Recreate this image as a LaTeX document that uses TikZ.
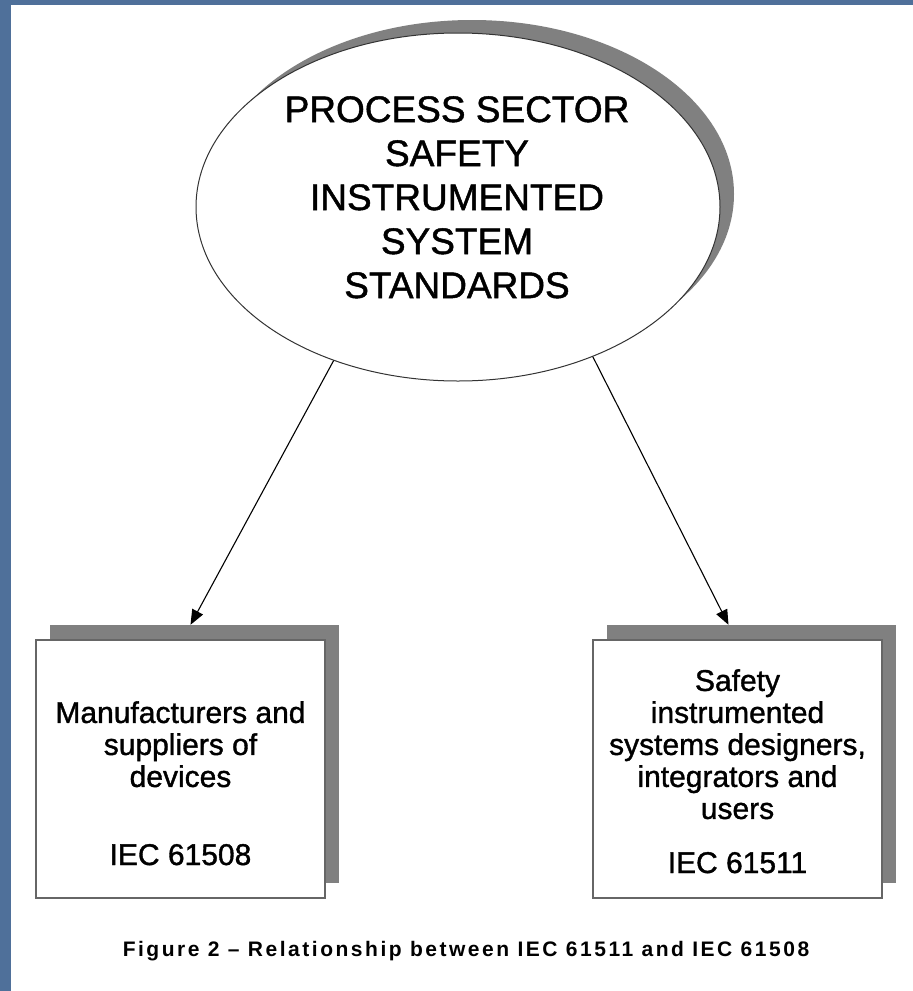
\documentclass[tikz,border=0pt]{standalone}
\usepackage{fontspec}
\setmainfont[FakeBold=1.2]{Liberation Sans}
\newfontfamily\capfont[LetterSpace=12]{Liberation Sans}
\usetikzlibrary{shapes.geometric,arrows.meta,calc}
\definecolor{slideblue}{RGB}{79,112,154}
\definecolor{shadowgray}{RGB}{128,128,128}
\begin{document}
\begin{tikzpicture}[x=1pt,y=-1pt,
  oval/.style={ellipse, draw=black!80, line width=1pt, fill=white,
    minimum width=524pt, minimum height=348pt, inner sep=0pt},
  ovalshadow/.style={ellipse, fill=shadowgray,
    minimum width=524pt, minimum height=348pt, inner sep=0pt},
  card/.style={rectangle, draw=black!60, line width=1.2pt, fill=white,
    minimum width=289pt, minimum height=258pt, inner sep=0pt},
  cardshadow/.style={rectangle, fill=shadowgray,
    minimum width=289pt, minimum height=258pt, inner sep=0pt},
  title/.style={align=center, inner sep=0pt, font=\fontsize{37}{44}\selectfont},
  body/.style={align=center, inner sep=0pt, font=\fontsize{30}{32}\selectfont},
  link/.style={line width=1.1pt, -{Triangle[length=15pt,width=12pt]}}
]
\useasboundingbox (0,0) rectangle (913,991);
% page background
\fill[slideblue] (0,0) rectangle (913,991);
\fill[white] (11,5) rectangle (913,991);

% top ellipse with its shadow
\node[ovalshadow] (stdsh) at (472,194) {};
\node[oval] (std) at (458,207) {};
\node[title, anchor=north] (stdtext) at (457,96)
  {PROCESS SECTOR\\SAFETY\\INSTRUMENTED\\SYSTEM\\STANDARDS};

% left box
\node[cardshadow] (mfrsh) at (194.5,754) {};
\node[card] (mfr) at (180.5,769) {};
\node[body, anchor=north] (mfrtext) at (180.5,701)
  {Manufacturers and\\suppliers of\\devices};
\node[body, anchor=base] (mfrstd) at (180.5,865) {IEC 61508};

% right box
\node[cardshadow] (dessh) at (751.5,754) {};
\node[card] (des) at (737.5,769) {};
\node[body, anchor=north] (destext) at (737.5,669)
  {Safety\\instrumented\\systems designers,\\integrators and\\users};
\node[body, anchor=base] (desstd) at (737.5,873) {IEC 61511};

% connectors
\draw[link] (std.231.9) -- ([xshift=-4pt]mfrsh.north);
\draw[link] (std.312.2) -- ([xshift=-23pt]dessh.north);

% caption
\node[font=\capfont\fontsize{21}{25}\selectfont\bfseries, anchor=base] (caption)
  at (466,956) {Figure 2 – Relationship between IEC 61511 and IEC 61508};
\end{tikzpicture}
\end{document}
